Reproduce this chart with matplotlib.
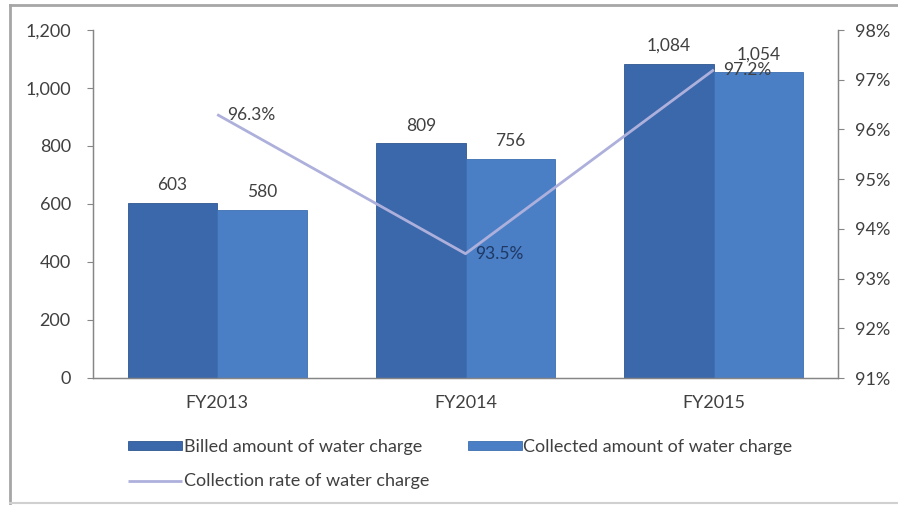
import matplotlib.pyplot as plt
import numpy as np
from matplotlib.lines import Line2D
from matplotlib.ticker import FuncFormatter

plt.rcParams['font.family'] = ['Lato', 'DejaVu Sans']

# Water charge data (million)
years = ['FY2013', 'FY2014', 'FY2015']
billed = [603, 809, 1084]
collected = [580, 756, 1054]
rate = [96.3, 93.5, 97.2]

billed_color = '#3b67ab'
collected_color = '#4a7fc6'
rate_color = '#aeb0dc'
text_color = '#404040'

fig = plt.figure(figsize=(8.98, 5.08), dpi=100)
ax = fig.add_axes([93 / 898, 1 - 378 / 508, (838 - 93) / 898, (378 - 30) / 508])
ax2 = ax.twinx()

x = np.arange(len(years))
w = 0.36
b1 = ax.bar(x - w / 2, billed, w, color=billed_color, edgecolor='#2f5690', linewidth=0.6,
            label='Billed amount of water charge')
b2 = ax.bar(x + w / 2, collected, w, color=collected_color, edgecolor='#3d6fb0', linewidth=0.6,
            label='Collected amount of water charge')

# value labels above bars
for bars in (b1, b2):
    for bar in bars:
        h = bar.get_height()
        ax.annotate(f'{h:,.0f}', (bar.get_x() + bar.get_width() / 2, h),
                    xytext=(0, 7), textcoords='offset points',
                    ha='center', va='bottom', fontsize=12.5, color=text_color)

ax.set_xlim(-0.5, 2.5)
ax.set_ylim(0, 1200)
ax.set_yticks(range(0, 1201, 200))
ax.yaxis.set_major_formatter(FuncFormatter(lambda v, p: f'{v:,.0f}'))
ax.set_xticks(x)
ax.set_xticklabels(years)

# collection rate line on the right axis
ln, = ax2.plot(x, rate, color=rate_color, linewidth=2.0, solid_capstyle='butt',
               label='Collection rate of water charge')
for xi, r in zip(x, rate):
    c = '#1f3864' if r < 94 else text_color
    ax2.annotate(f'{r:.1f}%', (xi, r), xytext=(7, 0), textcoords='offset points',
                 ha='left', va='center', fontsize=12.5, color=c)
ax2.set_ylim(91, 98)
ax2.set_yticks(range(91, 99))
ax2.yaxis.set_major_formatter(FuncFormatter(lambda v, p: f'{v:.0f}%'))

for a in (ax, ax2):
    a.spines['top'].set_visible(False)
    for s in ('left', 'right', 'bottom'):
        a.spines[s].set_color('#868686')
        a.spines[s].set_linewidth(0.9)
    a.tick_params(colors=text_color, labelsize=13, length=4, width=0.8)
    a.tick_params(axis='x', length=0, pad=12)
    a.tick_params(axis='both', which='both', color='#868686')
    for t in a.get_yticklabels():
        t.set_color(text_color)
ax.tick_params(axis='y', pad=12)
ax2.tick_params(axis='y', pad=8)

# legend: row-wise order for two columns
fig.legend([b1, ln, b2],
           ['Billed amount of water charge', 'Collection rate of water charge',
            'Collected amount of water charge'],
           ncol=2, loc='upper left', bbox_to_anchor=(112 / 898, 1 - 423 / 508),
           frameon=False, fontsize=13, handlelength=3.0, handleheight=0.4,
           handletextpad=0.1, columnspacing=2.1, labelspacing=1.0,
           labelcolor=text_color)

# outer chart frame
fc = '#a6a6a6'
fig.add_artist(Line2D([10 / 898, 10 / 898], [1 - 503 / 508, 1 - 5 / 508], color=fc, lw=2,
                      transform=fig.transFigure))
fig.add_artist(Line2D([10 / 898, 1], [1 - 5 / 508, 1 - 5 / 508], color=fc, lw=2,
                      transform=fig.transFigure))
fig.add_artist(Line2D([10 / 898, 1], [1 - 503 / 508, 1 - 503 / 508], color='#d0d0d0', lw=1.5,
                      transform=fig.transFigure))

fig.savefig('out.png', dpi=100)
